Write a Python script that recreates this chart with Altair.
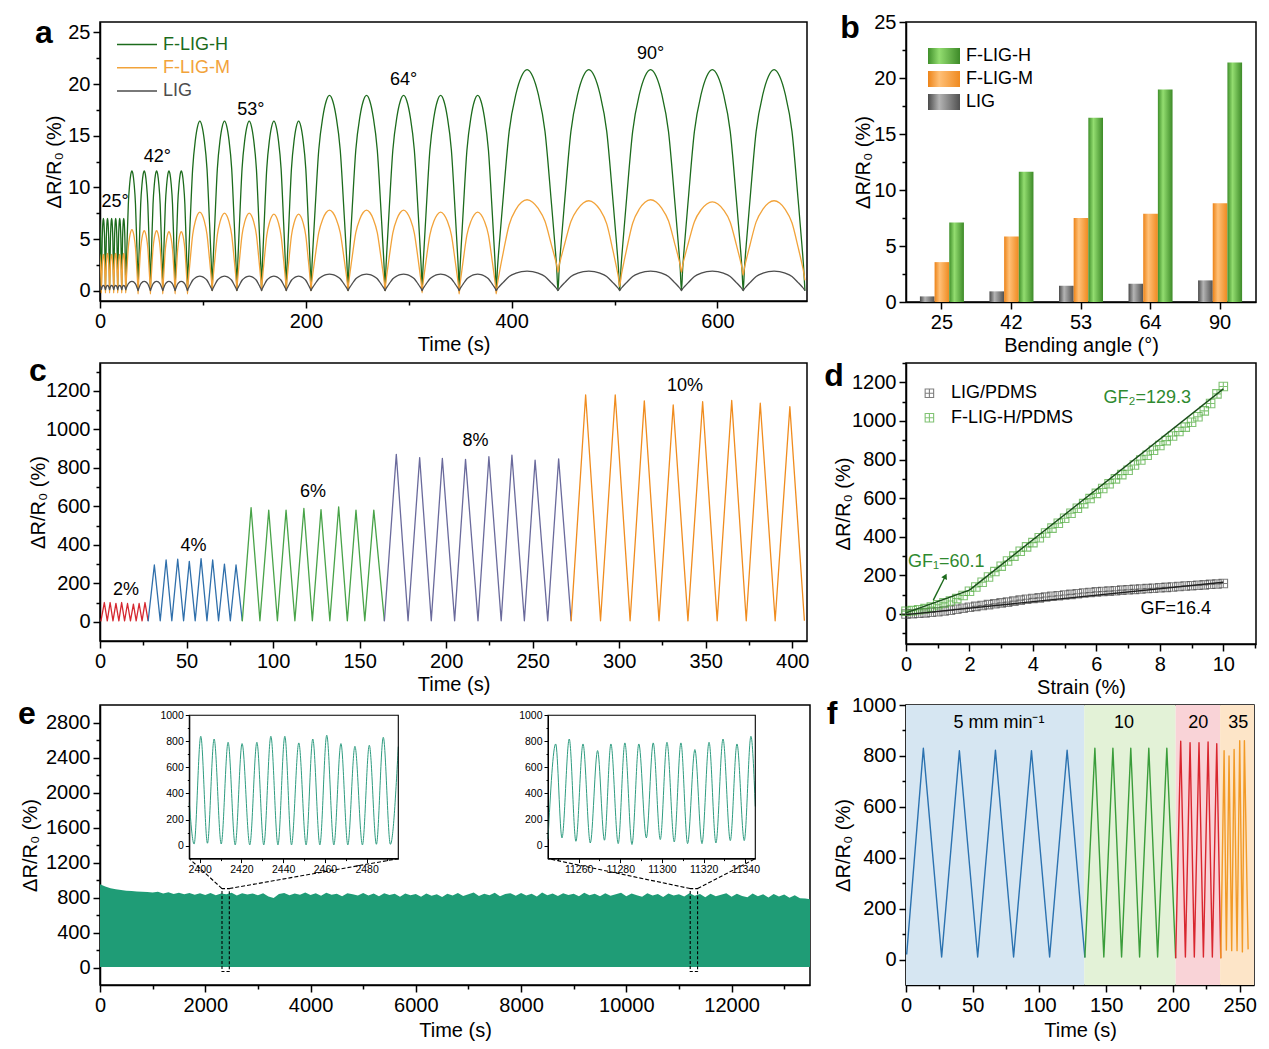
import altair as alt
import pandas as pd

FONT = "Liberation Sans"
YT = "ΔR/R₀ (%)"
ONE = pd.DataFrame({"k": [0]})

# ---------------- panel a ----------------
a_series = ["F-LIG-H", "F-LIG-M", "LIG"]
a_colors = ["#1c6b1c", "#f2a33a", "#4d4d4d"]
a_valley_t = [-2.7, 1.3, 5.3, 9.3, 13.3, 17.2, 21.1, 25.0, 37.0, 49.0, 61.0, 73.0, 85.0,
              109.0, 133.0, 157.0, 181.0, 205.0, 241.0, 277.0, 313.0, 349.0, 385.0,
              445.0, 505.0, 565.0, 625.0, 685.0]
a_peak_H = [7.0, 7.0, 7.0, 7.0, 7.0, 7.0, 7.0, 11.6, 11.6, 11.6, 11.6, 11.6,
            16.4, 16.4, 16.4, 16.4, 16.4, 18.9, 18.9, 18.9, 18.9, 18.9,
            21.4, 21.4, 21.4, 21.4, 21.4]
a_valley_H = [0.0] * 28
a_peak_M = [3.6, 3.5, 3.6, 3.5, 3.6, 3.5, 3.6, 5.9, 5.8, 5.8, 5.7, 5.7,
            7.6, 7.5, 7.5, 7.4, 7.4, 7.8, 7.8, 7.8, 7.6, 7.6,
            8.8, 8.7, 8.8, 8.6, 8.7]
a_valley_M = [-0.2, -0.2, -0.2, -0.2, -0.2, -0.2, -0.2, -0.2, -0.3, -0.3, -0.3, -0.3, -0.3,
              0.0, 0.0, 0.0, 0.0, 0.0, 0.0, 0.0, -0.2, -0.3, -0.3,
              1.8, 0.4, 1.8, 1.5, 1.0]
a_peak_L = [0.5, 0.5, 0.5, 0.5, 0.5, 0.5, 0.5, 0.9, 0.9, 0.9, 0.9, 0.9,
            1.4, 1.4, 1.4, 1.4, 1.4, 1.6, 1.6, 1.6, 1.6, 1.6,
            1.9, 1.9, 1.9, 1.9, 1.9]
a_valley_L = [0.1] * 8 + [0.0] * 20
# shape of one bending cycle (fraction of cycle -> fraction of peak)
a_shape_frac = [0.0, 0.02, 0.05, 0.11, 0.21, 0.32, 0.41, 0.5, 0.59, 0.68, 0.79, 0.89, 0.95, 0.98, 1.0]
a_shape_rel = [0.0, 0.10, 0.21, 0.41, 0.72, 0.89, 0.97, 1.0, 0.97, 0.89, 0.72, 0.41, 0.21, 0.10, 0.0]
a_angle_lbl = ["25°", "42°", "53°", "64°", "90°"]
a_angle_t = [14.6, 55.7, 146.6, 295.0, 535.0]
a_angle_v = [8.6, 12.9, 17.5, 20.4, 22.9]
a_xticks = [0, 100, 200, 300, 400, 500, 600]
a_yticks = [0, 2.5, 5, 7.5, 10, 12.5, 15, 17.5, 20, 22.5, 25]

# ---------------- panel b ----------------
b_angles = ["25", "42", "53", "64", "90"]
b_series = ["LIG", "F-LIG-M", "F-LIG-H"]
b_LIG = [0.5, 0.95, 1.45, 1.63, 1.93]
b_M = [3.56, 5.85, 7.51, 7.87, 8.82]
b_H = [7.1, 11.64, 16.45, 18.97, 21.38]
b_yticks = [0, 2.5, 5, 7.5, 10, 12.5, 15, 17.5, 20, 22.5, 25]

# ---------------- panel c ----------------
c_seg = ["2%", "4%", "6%", "8%", "10%"]
c_colors = ["#d62830", "#2f6fab", "#48a348", "#6a6a9c", "#f08c1e"]
c_valley_t = [
    [0.5, 4.2, 7.5, 10.9, 14.2, 17.6, 20.9, 24.3, 27.8],
    [27.8, 34.8, 41.5, 48.3, 55.0, 61.8, 68.5, 75.3, 82.2],
    [82.2, 92.4, 102.5, 112.6, 122.7, 132.8, 142.9, 153.0, 164.3],
    [164.3, 178.0, 191.4, 204.9, 218.4, 231.8, 245.2, 258.7, 272.2],
    [272.2, 289.2, 306.3, 323.0, 339.7, 356.6, 373.4, 390.1, 407.0],
]
c_valley_v = [2, 5, 8, 5]
c_peak_t = [
    [2.5, 5.85, 9.2, 12.5, 15.9, 19.3, 22.6, 26.0],
    [31.4, 38.2, 44.9, 51.6, 58.4, 65.1, 71.9, 78.6],
    [87.3, 97.5, 107.5, 117.8, 127.7, 137.9, 147.9, 158.2],
    [171.2, 184.7, 197.8, 211.2, 224.7, 238.0, 251.4, 265.0],
    [280.6, 297.7, 314.5, 331.2, 348.2, 365.0, 381.5, 398.6],
]
c_peak_v = [
    [100, 100, 96, 100, 95, 92, 95, 100],
    [295, 321, 325, 314, 328, 321, 300, 295],
    [593, 580, 580, 589, 583, 597, 580, 580],
    [870, 853, 849, 844, 858, 866, 840, 847],
    [1179, 1179, 1148, 1127, 1144, 1150, 1136, 1118],
]
c_lbl_t = [15.0, 54.0, 123.0, 217.0, 338.0]
c_lbl_v = [165, 395, 673, 940, 1226]
c_xticks = list(range(0, 401, 25))
c_yticks = list(range(0, 1301, 100))

# ---------------- panel d ----------------
d_series = ["LIG/PDMS", "F-LIG-H/PDMS"]
d_colors = ["#4a4a4a", "#4daa3a"]
d_strain = [0.0, 0.2, 0.4, 0.6, 0.8, 1.0, 1.2, 1.4, 1.6, 1.8, 2.0, 2.2, 2.4, 2.6, 2.8, 3.0,
            3.2, 3.4, 3.6, 3.8, 4.0, 4.2, 4.4, 4.6, 4.8, 5.0, 5.2, 5.4, 5.6, 5.8, 6.0, 6.2,
            6.4, 6.6, 6.8, 7.0, 7.2, 7.4, 7.6, 7.8, 8.0, 8.2, 8.4, 8.6, 8.8, 9.0, 9.2, 9.4,
            9.6, 9.8, 10.0]
d_lig = [0, 2, 4, 6, 9, 12, 16, 20, 25, 30, 35, 40, 44, 49, 53, 58, 62, 67, 72, 77, 81, 84,
         88, 92, 95, 99, 102, 105, 109, 112, 115, 117, 119, 121, 124, 126, 128, 130, 132,
         134, 136, 138, 140, 143, 145, 147, 149, 151, 154, 156, 158]
d_fh = [15, 18, 22, 28, 36, 48, 58, 68, 80, 96, 118, 140, 165, 192, 220, 248, 275, 300, 325,
        348, 370, 395, 420, 445, 470, 496, 522, 548, 572, 598, 625, 650, 675, 700, 722, 745,
        772, 798, 822, 848, 873, 898, 922, 945, 968, 993, 1022, 1052, 1090, 1140, 1178]
d_fitL_x = [0, 10]
d_fitL_v = [-3, 165]
d_fit1_x = [0, 2]
d_fit1_v = [6, 124]
d_fit2_x = [2, 10]
d_fit2_v = [124, 1166]
d_arrow_x = [0.86, 1.24]
d_arrow_v = [72, 196]
d_xticks = list(range(0, 12))
d_yticks = list(range(-100, 1301, 100))

# ---------------- panel e ----------------
e_t = list(range(0, 13401, 100)) + [13490]
e_top = [952, 925, 905, 893, 885, 878, 874, 869, 866, 862,
         858, 866, 846, 859, 841, 853, 837, 851, 832, 848,
         828, 852, 826, 846, 838, 855, 822, 849, 833, 846,
         826, 850, 812, 795, 840, 852, 825, 846, 831, 856,
         828, 848, 819, 853, 831, 844, 815, 850, 836, 824,
         851, 822, 845, 814, 849, 828, 842, 810, 847, 826,
         840, 808, 846, 820, 838, 805, 844, 823, 852, 816,
         836, 858, 818, 843, 826, 855, 815, 840, 850, 820,
         852, 824, 842, 812, 856, 826, 845, 817, 850, 830,
         843, 814, 853, 825, 844, 813, 849, 821, 838, 854,
         815, 846, 827, 810, 850, 822, 840, 806, 845, 824,
         838, 812, 849, 820, 840, 802, 844, 815, 832, 848,
         810, 842, 818, 803, 846, 815, 836, 800, 840, 812,
         833, 798, 825, 792, 788, 780]
e_floor = 6
e_box_t0 = [2318, 11214]
e_box_t1 = [2457, 11354]
e_box_v0 = [-45, -45]
e_box_v1 = [902, 902]
e_conn_t1 = [2318, 2457, 11214, 11354]
e_conn_v1 = [902, 902, 902, 902]
e_conn_t2 = [1697, 5668, 8512, 12451]
e_conn_v2 = [1244, 1244, 1244, 1244]
e_in1_dom = [2395.0, 2495.2]
e_in1_start = (2395.0, 330)
e_in1_end = (2495.2, 760)
e_in1_valley_t = [2397.3, 2403.7, 2410.3, 2417.0, 2424.0, 2430.7, 2437.5, 2444.0, 2451.0,
                  2457.6, 2464.3, 2471.0, 2478.0, 2484.7, 2491.4]
e_in1_valley_v = [12, 18, 12, 5, 5, 5, 5, 5, 5, 5, 5, 5, 5, 10, 10]
e_in1_peak_t = [2400.5, 2406.9, 2413.6, 2420.3, 2427.4, 2434.1, 2440.8, 2447.5, 2454.2,
                2460.9, 2467.7, 2474.4, 2481.3, 2488.0]
e_in1_peak_v = [839, 818, 793, 783, 793, 839, 839, 788, 818, 847, 783, 762, 770, 831]
e_in2_dom = [11245.3, 11344.8]
e_in2_start = (11245.3, 50)
e_in2_end = (11344.8, 300)
e_in2_peak_t = [11249.0, 11255.5, 11262.1, 11269.1, 11275.5, 11282.2, 11288.9, 11295.8,
                11302.4, 11309.1, 11315.8, 11322.6, 11329.3, 11336.0, 11342.7]
e_in2_peak_v = [780, 818, 780, 729, 780, 788, 780, 788, 793, 788, 737, 793, 818, 780, 839]
e_in2_valley_t = [11252.0, 11258.7, 11265.6, 11272.4, 11279.0, 11285.6, 11292.5, 11299.2,
                  11305.9, 11312.3, 11319.2, 11325.9, 11332.8, 11339.5]
e_in2_valley_v = [59, 33, 20, 41, 15, 8, 59, 46, 28, 15, 15, 20, 38, 38]
e_in_vdom = [-100, 1000]
e_xticks = list(range(0, 13001, 1000))
e_yticks = list(range(0, 2801, 200))
e_in_yticks = list(range(0, 1001, 100))
e_in1_xticks = list(range(2400, 2491, 10))
e_in2_xticks = list(range(11250, 11341, 10))

# ---------------- panel f ----------------
f_seg = ["5", "10", "20", "35"]
f_colors = ["#2b72b0", "#3a9d3a", "#d9262e", "#f29a26"]
f_bg_colors = ["#d6e6f2", "#e3f2d7", "#f9d3d7", "#fde5c8"]
f_bg_start = [0, 133.5, 202.0, 235.3]
f_bg_end = [133.5, 202.0, 235.3, 260.7]
f_valley_t = [
    [0.5, 26.7, 53.7, 80.6, 107.6, 134.0],
    [134.0, 148.2, 161.5, 175.0, 188.5, 202.0],
    [202.0, 209.3, 216.0, 222.8, 229.5, 235.8],
    [235.8, 240.0, 244.0, 248.0, 252.0, 256.3],
]
f_valley_v = [
    [20, 10, 10, 10, 10, 8],
    [8, 10, 10, 10, 10, 5],
    [5, 10, 10, 10, 10, 5],
    [5, 37, 35, 35, 30, 40],
]
f_peak_t = [
    [13.0, 40.0, 67.0, 94.0, 120.7],
    [141.5, 155.0, 168.4, 181.9, 195.4],
    [205.8, 212.8, 219.5, 226.3, 232.8],
    [238.3, 242.0, 245.8, 250.0, 253.5],
]
f_peak_v = [
    [830, 820, 822, 820, 822],
    [830, 830, 830, 830, 830],
    [858, 852, 852, 855, 848],
    [820, 800, 825, 860, 860],
]
f_lbl = ["5 mm min⁻¹", "10", "20", "35"]
f_lbl_t = [69.6, 163.4, 218.9, 248.9]
f_lbl_v = [930, 930, 930, 930]
f_xticks = list(range(0, 251, 25))
f_yticks = list(range(0, 1001, 100))


# ---------------- helpers ----------------
def ax(values, major, title=None, **kw):
    test = f"abs(datum.value/{major} - round(datum.value/{major})) < 0.001"
    opts = dict(values=values, labelExpr=f"({test}) ? datum.label : ''",
                tickSize={"condition": {"test": test, "value": 7}, "value": 4},
                format="d", labelFlush=False, labelOverlap=False, labelBound=False)
    opts.update(kw)
    return alt.Axis(title=title, **opts)


def xtitle(width, y=43):
    return dict(titleX=width / 2, titleY=y, titleBaseline="middle")


def ytitle(height, x):
    return dict(titleX=x, titleY=height / 2, titleBaseline="middle")


def letter(ch, x, y):
    return alt.Chart(ONE).mark_text(text=ch, fontSize=32, fontWeight="bold", font=FONT,
                                    align="center", baseline="alphabetic", color="black").encode(
        x=alt.value(x), y=alt.value(y))


def zigzag(vt, vv, pt, pv, seg):
    rows = []
    for i in range(len(pt)):
        rows.append((vt[i], vv[i], seg))
        rows.append((pt[i], pv[i], seg))
    rows.append((vt[-1], vv[-1], seg))
    return rows


def arcs(vt, vv, pv):
    ts, vs = [], []
    for i in range(len(pv)):
        t0, t1, v0, v1 = vt[i], vt[i + 1], vv[i], vv[i + 1]
        for j, (f, r) in enumerate(zip(a_shape_frac, a_shape_rel)):
            if i > 0 and j == 0:
                continue
            base = v0 + f * (v1 - v0)
            ts.append(t0 + f * (t1 - t0))
            vs.append(base + r * (pv[i] - base))
    return pd.DataFrame({"t": ts, "v": vs})


# ---------------- build panel a ----------------
AW, AH = 707, 279
a_x = alt.X("t:Q", scale=alt.Scale(domain=[0, 687], nice=False),
            axis=ax(a_xticks, 200, "Time (s)", **xtitle(AW)))
a_y = alt.Y("v:Q", scale=alt.Scale(domain=[-1, 26], nice=False),
            axis=ax(a_yticks, 5, YT, **ytitle(AH, -46)))
a_layers = []
for s, col, pk, vl in [("H", a_colors[0], a_peak_H, a_valley_H),
                       ("M", a_colors[1], a_peak_M, a_valley_M),
                       ("L", a_colors[2], a_peak_L, a_valley_L)]:
    a_layers.append(alt.Chart(arcs(a_valley_t, vl, pk)).mark_line(
        color=col, strokeWidth=1.3, clip=True, interpolate="monotone").encode(x=a_x, y=a_y))
a_layers.append(alt.Chart(pd.DataFrame({"t": a_angle_t, "v": a_angle_v, "l": a_angle_lbl})).mark_text(
    fontSize=18, font=FONT, color="black").encode(x=a_x, y=a_y, text="l:N"))
for i, (lbl, col) in enumerate(zip(a_series, a_colors)):
    yy = 22.5 + 23.3 * i
    a_layers.append(alt.Chart(ONE).mark_rule(color=col, strokeWidth=1.5).encode(
        x=alt.value(17), x2=alt.value(57), y=alt.value(yy)))
    a_layers.append(alt.Chart(ONE).mark_text(text=lbl, color=col, fontSize=18, font=FONT,
                                             align="left", baseline="middle").encode(
        x=alt.value(63), y=alt.value(yy)))
a_layers.append(letter("a", -56, 21))
pa = alt.layer(*a_layers).properties(width=AW, height=AH)

# ---------------- build panel b ----------------
BW, BH = 350, 280
b_df = pd.DataFrame({"angle": b_angles * 3,
                     "s": ["LIG"] * 5 + ["F-LIG-M"] * 5 + ["F-LIG-H"] * 5,
                     "v": b_LIG + b_M + b_H})


def grad(c0, c1, c2):
    return alt.LinearGradient(gradient="linear", x1=0, x2=1, y1=0, y2=0,
                              stops=[alt.GradientStop(offset=0, color=c0),
                                     alt.GradientStop(offset=0.35, color=c1),
                                     alt.GradientStop(offset=1, color=c2)])


b_grads = {"LIG": grad("#4a4a4a", "#b4b4b4", "#505050"),
           "F-LIG-M": grad("#ec8318", "#ffc077", "#ef8a20"),
           "F-LIG-H": grad("#3f8f2a", "#93dd70", "#3d8a28")}
b_x = alt.X("angle:N", sort=b_angles, scale=alt.Scale(paddingInner=0.367, paddingOuter=0.2),
            axis=alt.Axis(title="Bending angle (°)", labelAngle=0, tickSize=7, labelPadding=3,
                          **xtitle(BW)))
b_off = alt.XOffset("s:N", sort=b_series, scale=alt.Scale(domain=b_series, paddingInner=0, paddingOuter=0))
b_y = alt.Y("v:Q", scale=alt.Scale(domain=[0, 25], nice=False),
            axis=ax(b_yticks, 5, YT, **ytitle(BH, -43)))
b_layers = []
for s in b_series:
    b_layers.append(alt.Chart(b_df[b_df.s == s]).mark_bar(color=b_grads[s]).encode(
        x=b_x, xOffset=b_off, y=b_y))
for i, s in enumerate(["F-LIG-H", "F-LIG-M", "LIG"]):
    y0 = 26 + 23 * i
    b_layers.append(alt.Chart(ONE).mark_rect(color=b_grads[s]).encode(
        x=alt.value(22), x2=alt.value(54), y=alt.value(y0), y2=alt.value(y0 + 16)))
    b_layers.append(alt.Chart(ONE).mark_text(text=s, fontSize=18, font=FONT, color="black",
                                             align="left", baseline="middle").encode(
        x=alt.value(60), y=alt.value(y0 + 8)))
b_layers.append(letter("b", -56, 16))
pb = alt.layer(*b_layers).properties(width=BW, height=BH)

# ---------------- build panel c ----------------
CW, CH = 707, 278
c_rows = []
for i, s in enumerate(c_seg):
    vv = [c_valley_v[0]] + [5] * (len(c_valley_t[i]) - 1)
    c_rows += zigzag(c_valley_t[i], vv, c_peak_t[i], c_peak_v[i], s)
c_df = pd.DataFrame(c_rows, columns=["t", "v", "seg"])
c_x = alt.X("t:Q", scale=alt.Scale(domain=[0, 408.5], nice=False),
            axis=ax(c_xticks, 50, "Time (s)", **xtitle(CW)))
c_y = alt.Y("v:Q", scale=alt.Scale(domain=[-100, 1345], nice=False),
            axis=ax(c_yticks, 200, YT, **ytitle(CH, -62)))
c_line = alt.Chart(c_df).mark_line(strokeWidth=1.3, strokeJoin="round").encode(
    x=c_x, y=c_y, detail="seg:N",
    color=alt.Color("seg:N", scale=alt.Scale(domain=c_seg, range=c_colors), legend=None))
c_text = alt.Chart(pd.DataFrame({"t": c_lbl_t, "v": c_lbl_v, "l": c_seg})).mark_text(
    fontSize=18, font=FONT, color="black").encode(x=c_x, y=c_y, text="l:N")
pc = alt.layer(c_line, c_text, letter("c", -62, 18)).properties(width=CW, height=CH)

# ---------------- build panel d ----------------
DW, DH = 350, 281
SQX = "M-1,-1L1,-1L1,1L-1,1Z M0,-1L0,1 M-1,0L1,0"
d_df = pd.DataFrame({"x": d_strain * 2, "v": d_lig + d_fh,
                     "s": [d_series[0]] * len(d_strain) + [d_series[1]] * len(d_strain)})
d_x = alt.X("x:Q", scale=alt.Scale(domain=[0, 11.03], nice=False),
            axis=ax(d_xticks, 2, "Strain (%)", **xtitle(DW)))
d_y = alt.Y("v:Q", scale=alt.Scale(domain=[-155, 1300], nice=False),
            axis=ax(d_yticks, 200, YT, **ytitle(DH, -63)))
d_layers = [alt.Chart(d_df).mark_point(shape=SQX, size=72, filled=False, strokeWidth=1.1).encode(
    x=d_x, y=d_y, color=alt.Color("s:N", scale=alt.Scale(domain=d_series, range=d_colors), legend=None))]
for xs, vs, col in [(d_fitL_x, d_fitL_v, "#202020"), (d_fit1_x, d_fit1_v, "#1a4d1a"),
                    (d_fit2_x, d_fit2_v, "#1a4d1a")]:
    d_layers.append(alt.Chart(pd.DataFrame({"x": xs, "v": vs})).mark_line(
        color=col, strokeWidth=1.4).encode(x=d_x, y=d_y))
d_layers.append(alt.Chart(pd.DataFrame({"x": [d_arrow_x[0]], "v": [d_arrow_v[0]],
                                        "x2": [d_arrow_x[1]], "v2": [d_arrow_v[1]]})).mark_rule(
    color="#1d6b1d", strokeWidth=1.4).encode(x=d_x, y=d_y, x2="x2:Q", y2="v2:Q"))
d_layers.append(alt.Chart(pd.DataFrame({"x": [d_arrow_x[1]], "v": [d_arrow_v[1]]})).mark_point(
    shape="triangle-up", angle=27, size=40, filled=True, color="#1d6b1d", opacity=1).encode(x=d_x, y=d_y))
d_layers.append(alt.Chart(pd.DataFrame({"x": [0.06], "v": [270], "l": ["GF₁=60.1"]})).mark_text(
    fontSize=18, font=FONT, color="#2f8a2f", align="left").encode(x=d_x, y=d_y, text="l:N"))
d_layers.append(alt.Chart(pd.DataFrame({"x": [7.6], "v": [1121], "l": ["GF₂=129.3"]})).mark_text(
    fontSize=18, font=FONT, color="#2f8a2f").encode(x=d_x, y=d_y, text="l:N"))
d_layers.append(alt.Chart(pd.DataFrame({"x": [8.5], "v": [24], "l": ["GF=16.4"]})).mark_text(
    fontSize=18, font=FONT, color="black").encode(x=d_x, y=d_y, text="l:N"))
for i, (s, col) in enumerate(zip(d_series, d_colors)):
    yy = 30.3 + 24.4 * i
    d_layers.append(alt.Chart(ONE).mark_point(shape=SQX, size=72, filled=False, strokeWidth=1.1,
                                              color=col).encode(x=alt.value(23.4), y=alt.value(yy)))
    d_layers.append(alt.Chart(ONE).mark_text(text=s, fontSize=18, font=FONT, color="black",
                                             align="left", baseline="middle").encode(
        x=alt.value(45), y=alt.value(yy)))
d_layers.append(letter("d", -72, 23))
pd_ = alt.layer(*d_layers).properties(width=DW, height=DH)

# ---------------- build panel e ----------------
EW, EH = 710, 280
E_COL = "#1f9c76"
e_x = alt.X("t:Q", scale=alt.Scale(domain=[0, 13490], nice=False),
            axis=ax(e_xticks, 2000, "Time (s)", **xtitle(EW, 45)))
e_y = alt.Y("v:Q", scale=alt.Scale(domain=[-200, 3000], nice=False),
            axis=ax(e_yticks, 400, YT, **ytitle(EH, -70)))
e_area = alt.Chart(pd.DataFrame({"t": e_t, "v": e_top})).mark_area(color=E_COL, opacity=1).encode(
    x=e_x, y=e_y, y2=alt.datum(e_floor))
e_boxes = alt.Chart(pd.DataFrame({"t": e_box_t0, "t2": e_box_t1, "v": e_box_v0, "v2": e_box_v1})).mark_rect(
    fillOpacity=0, stroke="black", strokeWidth=1.1, strokeDash=[3, 2]).encode(
    x=e_x, x2="t2:Q", y=e_y, y2="v2:Q")
e_conn = alt.Chart(pd.DataFrame({"t": e_conn_t1, "v": e_conn_v1, "t2": e_conn_t2, "v2": e_conn_v2})).mark_rule(
    color="black", strokeWidth=1.1, strokeDash=[4, 2]).encode(x=e_x, y=e_y, x2="t2:Q", y2="v2:Q")
e_main = alt.layer(e_area, e_boxes, e_conn, letter("e", -73, 19))

IN_TOP, IN_BOT = 10.3, 153.6


def inset(dom, xr, xticks, start, end, vt, vv, pt, pv, peak_first):
    rows = [start]
    if peak_first:
        for i in range(len(pt)):
            rows.append((pt[i], pv[i]))
            if i < len(vt):
                rows.append((vt[i], vv[i]))
    else:
        for i in range(len(vt)):
            rows.append((vt[i], vv[i]))
            if i < len(pt):
                rows.append((pt[i], pv[i]))
    rows.append(end)
    df = pd.DataFrame(rows, columns=["t", "v"])
    ix = alt.X("t:Q", scale=alt.Scale(domain=dom, range=xr, nice=False),
               axis=ax(xticks, 20, None, orient="bottom", offset=-(EH - IN_BOT), labelFontSize=10.5,
                       tickWidth=1, domainWidth=1, labelPadding=2,
                       tickSize={"condition": {"test": "abs(datum.value/20 - round(datum.value/20)) < 0.001",
                                               "value": 4}, "value": 2}))
    iy = alt.Y("v:Q", scale=alt.Scale(domain=e_in_vdom, range=[IN_BOT, IN_TOP], nice=False),
               axis=ax(e_in_yticks, 200, None, orient="left", offset=-xr[0], labelFontSize=10.5,
                       tickWidth=1, domainWidth=1, labelPadding=2,
                       tickSize={"condition": {"test": "abs(datum.value/200 - round(datum.value/200)) < 0.001",
                                               "value": 4}, "value": 2}))
    line = alt.Chart(df).mark_line(color="#2e9c80", strokeWidth=1, interpolate="monotone").encode(x=ix, y=iy)
    frame = alt.Chart(pd.DataFrame({"t": [dom[0]], "t2": [dom[1]], "v": [e_in_vdom[0]], "v2": [e_in_vdom[1]]})).mark_rect(
        fillOpacity=0, stroke="black", strokeWidth=1.1).encode(x=ix, x2="t2:Q", y=iy, y2="v2:Q")
    return alt.layer(line, frame)


ins1 = inset(e_in1_dom, [89.3, 298.3], e_in1_xticks, e_in1_start, e_in1_end,
             e_in1_valley_t, e_in1_valley_v, e_in1_peak_t, e_in1_peak_v, False)
ins2 = inset(e_in2_dom, [448.0, 655.3], e_in2_xticks, e_in2_start, e_in2_end,
             e_in2_valley_t, e_in2_valley_v, e_in2_peak_t, e_in2_peak_v, True)
pe = alt.layer(e_main, ins1, ins2).resolve_scale(x="independent", y="independent").properties(
    width=EW, height=EH)

# ---------------- build panel f ----------------
FW, FH = 348, 280
f_rows = []
for i, s in enumerate(f_seg):
    f_rows += zigzag(f_valley_t[i], f_valley_v[i], f_peak_t[i], f_peak_v[i], s)
f_df = pd.DataFrame(f_rows, columns=["t", "v", "seg"])
f_x = alt.X("t:Q", scale=alt.Scale(domain=[0, 260.7], nice=False),
            axis=ax(f_xticks, 50, "Time (s)", **xtitle(FW, 45)))
f_y = alt.Y("v:Q", scale=alt.Scale(domain=[-100, 1000], nice=False),
            axis=ax(f_yticks, 200, YT, **ytitle(FH, -63)))
f_bg = alt.Chart(pd.DataFrame({"t": f_bg_start, "t2": f_bg_end, "seg": f_seg})).mark_rect(opacity=1).encode(
    x=f_x, x2="t2:Q", y=alt.value(0), y2=alt.value(FH),
    fill=alt.Fill("seg:N", scale=alt.Scale(domain=f_seg, range=f_bg_colors), legend=None))
f_line = alt.Chart(f_df).mark_line(strokeWidth=1.4, strokeJoin="round").encode(
    x=f_x, y=f_y, detail="seg:N",
    stroke=alt.Stroke("seg:N", scale=alt.Scale(domain=f_seg, range=f_colors), legend=None))
f_text = alt.Chart(pd.DataFrame({"t": f_lbl_t, "v": f_lbl_v, "l": f_lbl})).mark_text(
    fontSize=18, font=FONT, color="black").encode(x=f_x, y=f_y, text="l:N")
pf = alt.layer(f_bg, f_line, f_text, letter("f", -74, 19)).properties(width=FW, height=FH)

# ---------------- assemble ----------------
chart = alt.concat(pa, pb, pc, pd_, pe, pf, columns=2, spacing={"row": 61, "column": 96},
                   bounds="flush").resolve_scale(
    color="independent", fill="independent", stroke="independent"
).properties(
    padding={"top": 3, "left": 9, "right": 0, "bottom": 0}
).configure_view(stroke="black", strokeWidth=1.5).configure_axis(
    domainColor="black", domainWidth=1.5, tickColor="black", tickWidth=1.5,
    labelFont=FONT, labelFontSize=20, labelColor="black", titleFont=FONT, titleFontSize=20,
    titleFontWeight="normal", titleColor="black", grid=False, labelPadding=3
).configure_text(font=FONT)

chart.save("out.html", embed_options={"renderer": "svg", "actions": False})
